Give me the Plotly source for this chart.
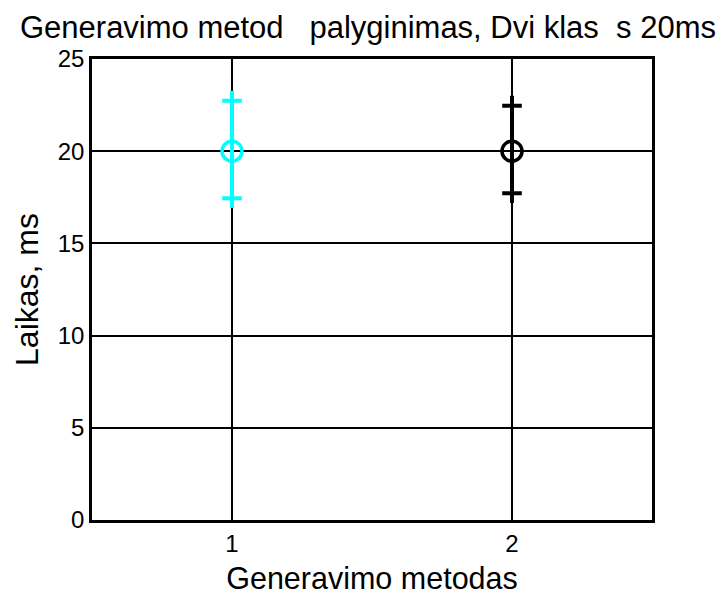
import plotly.graph_objects as go

methods = [1, 2]
means = [20.0, 20.0]
upper = [22.74, 22.47]
lower = [17.45, 17.72]
colors = ["#00FFFF", "#000000"]

title_text = "Generavimo metod   palyginimas, Dvi klas  s 20ms"
x_label = "Generavimo metodas"
y_label = "Laikas, ms"
y_ticks = [0, 5, 10, 15, 20, 25]
x_ticks = [1, 2]

fig = go.Figure()
for m, mu, hi, lo, c in zip(methods, means, upper, lower, colors):
    fig.add_trace(go.Scatter(
        x=[m, m], y=[lo, hi], mode="lines+markers",
        line=dict(color=c, width=4),
        marker=dict(symbol="cross-thin", size=14, color=c,
                    line=dict(color=c, width=4)),
        showlegend=False, hoverinfo="skip"))
    fig.add_trace(go.Scatter(
        x=[m], y=[mu], mode="markers",
        marker=dict(symbol="circle-open", size=20, color=c,
                    line=dict(color=c, width=3.5)),
        showlegend=False))

font = "Liberation Sans, Arial, sans-serif"
fig.update_layout(
    width=724, height=596,
    margin=dict(l=92, r=72, t=59, b=76),
    paper_bgcolor="white", plot_bgcolor="white",
    title=dict(text=title_text, x=368 / 724, xanchor="center",
               y=1 - 27 / 596, yanchor="middle", yref="container",
               font=dict(family=font, size=31, color="black")),
    font=dict(family=font, color="black"),
)
fig.update_xaxes(
    range=[0.5, 2.5], tickvals=x_ticks, ticktext=[str(v) for v in x_ticks],
    showgrid=True, gridcolor="black", gridwidth=2,
    showline=True, linecolor="black", linewidth=2.5, mirror=True,
    ticks="inside", ticklen=7, tickcolor="black", tickwidth=2,
    zeroline=False, automargin=False,
    tickfont=dict(family=font, size=24, color="black"),
    title=dict(text=x_label, font=dict(family=font, size=30.5, color="black"), standoff=13),
)
fig.update_yaxes(
    range=[0, 25], tickvals=y_ticks,
    showgrid=True, gridcolor="black", gridwidth=2,
    showline=True, linecolor="black", linewidth=2.5, mirror=True,
    ticks="inside", ticklen=7, tickcolor="black", tickwidth=2,
    zeroline=False, automargin=False,
    tickfont=dict(family=font, size=24, color="black"),
    title=dict(text=y_label, font=dict(family=font, size=32, color="black"), standoff=10),
)
fig.write_html("out.html")
